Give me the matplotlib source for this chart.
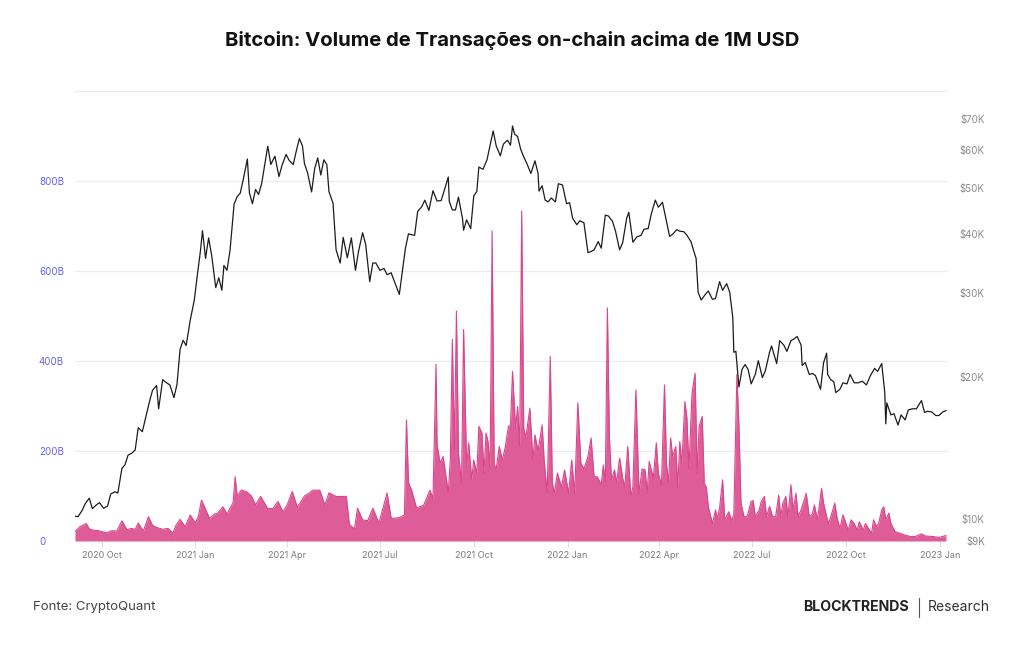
import matplotlib
matplotlib.use("Agg")
import matplotlib.pyplot as plt
import matplotlib.dates as mdates
import pandas as pd
from matplotlib.ticker import FixedLocator, NullLocator
from matplotlib.lines import Line2D

# ---------------- DATA ----------------
title = "Bitcoin: Volume de Transações on-chain acima de 1M USD"
source = "Fonte: CryptoQuant"

# Bitcoin price (USD)
price_dates = [
    "2020-09-05", "2020-09-08", "2020-09-12", "2020-09-15", "2020-09-19", "2020-09-22", "2020-09-26", "2020-09-29",
    "2020-10-03", "2020-10-07", "2020-10-10", "2020-10-14", "2020-10-17", "2020-10-21", "2020-10-24", "2020-10-27",
    "2020-10-31", "2020-11-03", "2020-11-06", "2020-11-10", "2020-11-13", "2020-11-17", "2020-11-20", "2020-11-24",
    "2020-11-26", "2020-11-30", "2020-12-03", "2020-12-07", "2020-12-11", "2020-12-14", "2020-12-17", "2020-12-20",
    "2020-12-23", "2020-12-27", "2020-12-31", "2021-01-03", "2021-01-06", "2021-01-08", "2021-01-11", "2021-01-14",
    "2021-01-17", "2021-01-21", "2021-01-24", "2021-01-27", "2021-01-29", "2021-02-01", "2021-02-04", "2021-02-08",
    "2021-02-11", "2021-02-14", "2021-02-17", "2021-02-21", "2021-02-23", "2021-02-26", "2021-03-01", "2021-03-04",
    "2021-03-07", "2021-03-10", "2021-03-13", "2021-03-16", "2021-03-20", "2021-03-24", "2021-03-27", "2021-03-31",
    "2021-04-03", "2021-04-07", "2021-04-10", "2021-04-13", "2021-04-16", "2021-04-18", "2021-04-21", "2021-04-25",
    "2021-04-28", "2021-05-01", "2021-05-04", "2021-05-07", "2021-05-10", "2021-05-12", "2021-05-16", "2021-05-19",
    "2021-05-23", "2021-05-26", "2021-05-30", "2021-06-03", "2021-06-07", "2021-06-10", "2021-06-14", "2021-06-17",
    "2021-06-21", "2021-06-24", "2021-06-27", "2021-07-01", "2021-07-05", "2021-07-08", "2021-07-12", "2021-07-15",
    "2021-07-20", "2021-07-22", "2021-07-26", "2021-07-29", "2021-08-01", "2021-08-04", "2021-08-07", "2021-08-11",
    "2021-08-14", "2021-08-18", "2021-08-22", "2021-08-26", "2021-08-30", "2021-09-02", "2021-09-06", "2021-09-07",
    "2021-09-10", "2021-09-13", "2021-09-16", "2021-09-20", "2021-09-21", "2021-09-24", "2021-09-28", "2021-10-01",
    "2021-10-04", "2021-10-06", "2021-10-10", "2021-10-14", "2021-10-17", "2021-10-20", "2021-10-23", "2021-10-27",
    "2021-10-30", "2021-11-03", "2021-11-06", "2021-11-08", "2021-11-10", "2021-11-13", "2021-11-16", "2021-11-19",
    "2021-11-22", "2021-11-26", "2021-11-30", "2021-12-03", "2021-12-04", "2021-12-07", "2021-12-10", "2021-12-13",
    "2021-12-16", "2021-12-20", "2021-12-23", "2021-12-27", "2021-12-31", "2022-01-03", "2022-01-06", "2022-01-10",
    "2022-01-13", "2022-01-17", "2022-01-21", "2022-01-24", "2022-01-27", "2022-01-31", "2022-02-03", "2022-02-07",
    "2022-02-10", "2022-02-14", "2022-02-17", "2022-02-21", "2022-02-24", "2022-02-28", "2022-03-02", "2022-03-06",
    "2022-03-10", "2022-03-14", "2022-03-17", "2022-03-21", "2022-03-24", "2022-03-28", "2022-03-31", "2022-04-04",
    "2022-04-07", "2022-04-11", "2022-04-14", "2022-04-18", "2022-04-21", "2022-04-25", "2022-04-28", "2022-05-02",
    "2022-05-05", "2022-05-07", "2022-05-09", "2022-05-12", "2022-05-16", "2022-05-19", "2022-05-23", "2022-05-26",
    "2022-05-30", "2022-06-02", "2022-06-06", "2022-06-09", "2022-06-12", "2022-06-13", "2022-06-15", "2022-06-18",
    "2022-06-21", "2022-06-24", "2022-06-27", "2022-06-30", "2022-07-04", "2022-07-07", "2022-07-11", "2022-07-14",
    "2022-07-18", "2022-07-20", "2022-07-25", "2022-07-28", "2022-08-01", "2022-08-04", "2022-08-08", "2022-08-11",
    "2022-08-14", "2022-08-18", "2022-08-19", "2022-08-22", "2022-08-26", "2022-08-29", "2022-09-01", "2022-09-06",
    "2022-09-09", "2022-09-12", "2022-09-13", "2022-09-16", "2022-09-19", "2022-09-21", "2022-09-25", "2022-09-28",
    "2022-10-02", "2022-10-05", "2022-10-09", "2022-10-13", "2022-10-17", "2022-10-21", "2022-10-25", "2022-10-29",
    "2022-11-01", "2022-11-05", "2022-11-08", "2022-11-09", "2022-11-10", "2022-11-14", "2022-11-17", "2022-11-21",
    "2022-11-24", "2022-11-28", "2022-12-01", "2022-12-05", "2022-12-09", "2022-12-14", "2022-12-17", "2022-12-20",
    "2022-12-24", "2022-12-28", "2022-12-31", "2023-01-04", "2023-01-07",
]
price_values = [
    10150, 10130, 10440, 10790, 11080, 10530, 10730, 10840,
    10550, 10670, 11300, 11430, 11360, 12800, 13030, 13650,
    13800, 14000, 15600, 15300, 16300, 17700, 18700, 19150,
    17100, 19700, 19450, 19200, 18050, 19250, 22800, 23850,
    23250, 26300, 29000, 32800, 36800, 40600, 35500, 39200,
    36000, 30800, 32300, 30400, 34300, 33500, 36900, 46200,
    47900, 48700, 52100, 57500, 48800, 46300, 49600, 48400,
    51000, 55900, 61200, 56000, 58300, 52800, 55800, 58800,
    57100, 56000, 59800, 63500, 61300, 56200, 53800, 49000,
    54900, 57800, 53200, 57300, 55900, 49100, 46400, 37000,
    34700, 39300, 35600, 39200, 33500, 36700, 40200, 38000,
    31700, 34700, 34700, 33500, 33800, 32800, 33100, 31800,
    29800, 32100, 37300, 40000, 39800, 39700, 44600, 45600,
    47100, 44800, 49300, 46900, 47000, 49300, 52700, 46800,
    44900, 44900, 47800, 43000, 40700, 42800, 41000, 48100,
    49100, 55300, 54700, 57300, 61500, 65900, 61300, 58400,
    61800, 63000, 61500, 67500, 64900, 64100, 60300, 58100,
    56300, 53600, 57000, 53700, 49200, 50500, 47100, 46700,
    47600, 46700, 51000, 50700, 46300, 46500, 43100, 41800,
    42600, 42200, 36500, 36700, 37000, 38500, 37300, 43800,
    43600, 42500, 40500, 37000, 38300, 43200, 44400, 38400,
    39400, 39700, 40900, 41000, 44000, 47100, 45500, 46600,
    43500, 39500, 39900, 40800, 40500, 40400, 39700, 38500,
    36600, 35500, 30100, 29000, 29800, 30300, 29100, 29200,
    31700, 30400, 31400, 30100, 26600, 22500, 22600, 19000,
    20700, 21200, 20700, 19300, 20200, 21600, 19900, 20600,
    22500, 23200, 21300, 23800, 23300, 22600, 23800, 24000,
    24300, 23300, 21100, 21400, 20200, 20300, 20100, 18800,
    21400, 22400, 20200, 19700, 19500, 18500, 18800, 19400,
    19300, 20200, 19400, 19400, 19550, 19200, 20100, 20800,
    20500, 21300, 18500, 15900, 17600, 16600, 16700, 15800,
    16600, 16200, 17000, 17100, 17100, 17800, 16800, 16900,
    16840, 16550, 16550, 16850, 16950,
]

# On-chain transaction volume above 1M USD (billions USD)
volume_dates = [
    "2020-09-05", "2020-09-10", "2020-09-16", "2020-09-19", "2020-09-23", "2020-09-28", "2020-10-06", "2020-10-11",
    "2020-10-16", "2020-10-21", "2020-10-26", "2020-10-30", "2020-11-03", "2020-11-06", "2020-11-11", "2020-11-16",
    "2020-11-20", "2020-11-24", "2020-11-30", "2020-12-05", "2020-12-10", "2020-12-13", "2020-12-17", "2020-12-22",
    "2020-12-27", "2021-01-01", "2021-01-04", "2021-01-07", "2021-01-12", "2021-01-15", "2021-01-20", "2021-01-23",
    "2021-01-28", "2021-02-01", "2021-02-07", "2021-02-09", "2021-02-11", "2021-02-15", "2021-02-20", "2021-02-25",
    "2021-03-01", "2021-03-06", "2021-03-13", "2021-03-18", "2021-03-23", "2021-03-28", "2021-04-01", "2021-04-06",
    "2021-04-11", "2021-04-18", "2021-04-23", "2021-04-26", "2021-05-03", "2021-05-08", "2021-05-12", "2021-05-19",
    "2021-05-29", "2021-06-01", "2021-06-06", "2021-06-09", "2021-06-14", "2021-06-19", "2021-06-24", "2021-06-30",
    "2021-07-08", "2021-07-12", "2021-07-20", "2021-07-25", "2021-07-27", "2021-07-29", "2021-08-01", "2021-08-06",
    "2021-08-13", "2021-08-19", "2021-08-22", "2021-08-25", "2021-08-26", "2021-08-29", "2021-09-01", "2021-09-06",
    "2021-09-08", "2021-09-10", "2021-09-12", "2021-09-14", "2021-09-16", "2021-09-19", "2021-09-21", "2021-09-24",
    "2021-09-26", "2021-09-29", "2021-10-01", "2021-10-04", "2021-10-06", "2021-10-09", "2021-10-11", "2021-10-13",
    "2021-10-15", "2021-10-17", "2021-10-19", "2021-10-21", "2021-10-23", "2021-10-26", "2021-10-29", "2021-11-01",
    "2021-11-04", "2021-11-06", "2021-11-08", "2021-11-11", "2021-11-13", "2021-11-15", "2021-11-17", "2021-11-19",
    "2021-11-21", "2021-11-25", "2021-11-28", "2021-11-30", "2021-12-03", "2021-12-07", "2021-12-09", "2021-12-12",
    "2021-12-15", "2021-12-17", "2021-12-19", "2021-12-22", "2021-12-26", "2021-12-29", "2022-01-02", "2022-01-05",
    "2022-01-08", "2022-01-11", "2022-01-14", "2022-01-17", "2022-01-21", "2022-01-24", "2022-01-27", "2022-01-30",
    "2022-02-03", "2022-02-05", "2022-02-07", "2022-02-09", "2022-02-11", "2022-02-13", "2022-02-16", "2022-02-18",
    "2022-02-21", "2022-02-24", "2022-02-26", "2022-03-01", "2022-03-04", "2022-03-06", "2022-03-09", "2022-03-12",
    "2022-03-15", "2022-03-18", "2022-03-20", "2022-03-22", "2022-03-26", "2022-03-29", "2022-03-31", "2022-04-03",
    "2022-04-06", "2022-04-08", "2022-04-10", "2022-04-12", "2022-04-14", "2022-04-17", "2022-04-19", "2022-04-21",
    "2022-04-23", "2022-04-26", "2022-04-28", "2022-04-30", "2022-05-03", "2022-05-06", "2022-05-08", "2022-05-10",
    "2022-05-13", "2022-05-15", "2022-05-17", "2022-05-19", "2022-05-23", "2022-05-26", "2022-05-28", "2022-05-30",
    "2022-06-02", "2022-06-04", "2022-06-08", "2022-06-11", "2022-06-13", "2022-06-16", "2022-06-18", "2022-06-20",
    "2022-06-23", "2022-06-26", "2022-06-30", "2022-07-02", "2022-07-04", "2022-07-08", "2022-07-10", "2022-07-13",
    "2022-07-15", "2022-07-18", "2022-07-21", "2022-07-24", "2022-07-27", "2022-07-29", "2022-07-31", "2022-08-03",
    "2022-08-05", "2022-08-08", "2022-08-10", "2022-08-13", "2022-08-15", "2022-08-18", "2022-08-20", "2022-08-23",
    "2022-08-26", "2022-08-29", "2022-08-31", "2022-09-03", "2022-09-07", "2022-09-09", "2022-09-12", "2022-09-14",
    "2022-09-18", "2022-09-20", "2022-09-22", "2022-09-25", "2022-09-28", "2022-10-01", "2022-10-03", "2022-10-06",
    "2022-10-09", "2022-10-12", "2022-10-14", "2022-10-18", "2022-10-20", "2022-10-23", "2022-10-26", "2022-10-28",
    "2022-10-31", "2022-11-02", "2022-11-05", "2022-11-07", "2022-11-09", "2022-11-12", "2022-11-14", "2022-11-18",
    "2022-11-23", "2022-11-28", "2022-12-03", "2022-12-08", "2022-12-14", "2022-12-18", "2022-12-25", "2022-12-31",
    "2023-01-07",
]
volume_values = [
    21, 32, 39, 27, 24, 23, 18, 23,
    22, 45, 25, 28, 26, 40, 22, 54,
    35, 30, 26, 28, 18, 35, 48, 32,
    58, 40, 55, 91, 65, 50, 60, 62,
    76, 60, 85, 143, 100, 113, 110, 100,
    80, 99, 72, 72, 88, 65, 80, 110,
    75, 100, 107, 113, 113, 80, 107, 99,
    99, 37, 27, 73, 47, 45, 73, 40,
    107, 50, 52, 58, 269, 130, 113, 73,
    80, 113, 95, 393, 214, 173, 188, 107,
    180, 448, 203, 511, 196, 128, 470, 165,
    218, 136, 180, 150, 255, 240, 150, 240,
    221, 160, 689, 170, 160, 210, 180, 210,
    255, 257, 377, 250, 299, 210, 733, 250,
    230, 295, 180, 236, 200, 258, 180, 106,
    410, 130, 106, 151, 120, 158, 106, 180,
    106, 307, 173, 160, 188, 229, 143, 143,
    125, 169, 130, 518, 229, 136, 158, 130,
    184, 140, 120, 210, 99, 120, 336, 106,
    160, 158, 106, 177, 140, 218, 150, 125,
    347, 170, 130, 229, 188, 210, 120, 221,
    170, 310, 273, 160, 329, 373, 151, 255,
    277, 128, 120, 76, 39, 69, 50, 73,
    136, 47, 65, 45, 60, 370, 255, 84,
    54, 54, 88, 90, 54, 70, 89, 99,
    54, 77, 54, 54, 102, 54, 84, 99,
    54, 125, 70, 106, 54, 70, 84, 106,
    54, 60, 80, 47, 117, 84, 54, 39,
    69, 84, 54, 28, 58, 39, 24, 47,
    39, 24, 43, 24, 39, 28, 17, 47,
    32, 39, 69, 76, 47, 62, 39, 21,
    17, 13, 10, 10, 16, 11, 10, 8,
    12,
]

left_ticks = [0, 200, 400, 600, 800, 1000]
left_labels = ["0", "200B", "400B", "600B", "800B", ""]
right_ticks = [9000, 10000, 20000, 30000, 40000, 50000, 60000, 70000]
right_labels = ["$9K", "$10K", "$20K", "$30K", "$40K", "$50K", "$60K", "$70K"]

# ---------------- PLOT ----------------
plt.rcParams["font.family"] = ["Inter", "DejaVu Sans"]

pdates = pd.to_datetime(price_dates)
vdates = pd.to_datetime(volume_dates)

W, H = 1024, 645
fig = plt.figure(figsize=(W / 100, H / 100), dpi=100)
fig.patch.set_facecolor("white")
ax = fig.add_axes([75 / W, 1 - 541 / H, 873 / W, 450 / H])

ax.fill_between(vdates, volume_values, 0, color="#de5c97", lw=0, zorder=2)
ax.plot(vdates, volume_values, color="#d9468b", lw=0.8, zorder=3)

ax.set_ylim(0, 1000)
ax.set_xlim(pd.Timestamp("2020-09-05"), pd.Timestamp("2023-01-09"))
ax.set_yticks(left_ticks)
ax.set_yticklabels(left_labels)
ax.grid(axis="y", color="#ebebf0", lw=0.9, zorder=0)
ax.set_axisbelow(True)
ax.tick_params(axis="y", length=0, pad=26, labelcolor="#6763f2", labelsize=7)
for lb in ax.get_yticklabels():
    lb.set_horizontalalignment("left")

ax.xaxis.set_major_locator(mdates.MonthLocator(bymonth=[1, 4, 7, 10]))
ax.xaxis.set_major_formatter(mdates.DateFormatter("%Y %b"))
ax.tick_params(axis="x", length=4, width=0.8, color="#dddddd", labelcolor="#7a7a7a",
               labelsize=6.5, pad=3)
for s in ax.spines.values():
    s.set_visible(False)

ax2 = ax.twinx()
ax2.set_yscale("log")
ax2.plot(pdates, price_values, color="#1c1c1c", lw=0.9, zorder=4)
ax2.set_ylim(9000, 80000)
ax2.yaxis.set_major_locator(FixedLocator(right_ticks))
ax2.yaxis.set_minor_locator(NullLocator())
ax2.set_yticklabels(right_labels)
ax2.tick_params(axis="y", length=0, pad=26.5, labelcolor="#8a8a8a", labelsize=7)
for lb in ax2.get_yticklabels():
    lb.set_horizontalalignment("right")
for s in ax2.spines.values():
    s.set_visible(False)

fig.text(0.5, 1 - 40 / H, title, ha="center", va="center", fontsize=14.6,
         fontweight="bold", color="#111111")
fig.text(33 / W, 1 - 607 / H, source, ha="left", va="center", fontsize=9.5, color="#444444")
fig.text(909 / W, 1 - 607 / H, "BLOCKTRENDS", ha="right", va="center", fontsize=10.2,
         fontweight="bold", color="#222222")
fig.text(928 / W, 1 - 607 / H, "Research", ha="left", va="center", fontsize=10, color="#333333")
fig.add_artist(Line2D([919 / W, 919 / W], [1 - 598 / H, 1 - 617 / H], transform=fig.transFigure,
                      color="#555555", lw=0.8))

fig.savefig("out.png", dpi=100)
